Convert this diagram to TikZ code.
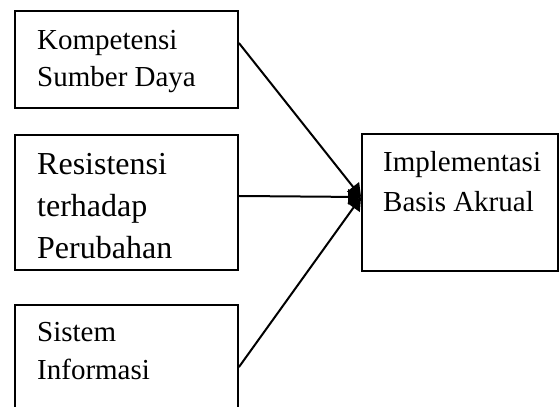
\documentclass[tikz,border=0pt]{standalone}
\usepackage{fontspec}
\setmainfont{Liberation Serif}
\usetikzlibrary{arrows.meta}
\begin{document}
\begin{tikzpicture}[x=1pt,y=1pt,
  box/.style={draw,line width=1.8pt,inner sep=0pt,rectangle},
  txt/.style={anchor=base west,inner sep=0pt,font=\fontsize{29}{35}\selectfont},
  bigtxt/.style={anchor=base west,inner sep=0pt,font=\fontsize{32}{38}\selectfont},
  conn/.style={line width=2pt,-{Triangle[length=13pt,width=15pt]}}]
\clip (0,0) rectangle (560,407);
\node[box,minimum width=223pt,minimum height=97pt] (b1) at (126.5,347.5) {};
\node[box,minimum width=223pt,minimum height=135pt] (b2) at (126.5,204.5) {};
\node[box,minimum width=223pt,minimum height=120pt] (b3) at (126.5,42) {};
\node[box,minimum width=196pt,minimum height=137pt] (b4) at (460,204.5) {};
% texts
\node[txt] (t11) at (37,357) {Kompetensi};
\node[txt] (t12) at (37,320) {Sumber Daya};
\node[bigtxt] (t21) at (37,232) {Resistensi};
\node[bigtxt] (t22) at (37,190) {terhadap};
\node[bigtxt] (t23) at (37,148) {Perubahan};
\node[txt] (t31) at (37,65) {Sistem};
\node[txt] (t32) at (37,27) {Informasi};
\node[txt] (t41) at (383,235) {Implementasi};
\node[txt] (t42) at (383,195) {Basis Akrual};
% connectors
\coordinate (tip) at ([yshift=5.5pt]b4.west);
\draw[conn] ([yshift=16.5pt]b1.east) -- (tip);
\draw[conn] ([yshift=6.5pt]b2.east) -- (tip);
\draw[conn] ([yshift=-63pt]b3.north east) -- (tip);
\end{tikzpicture}
\end{document}
